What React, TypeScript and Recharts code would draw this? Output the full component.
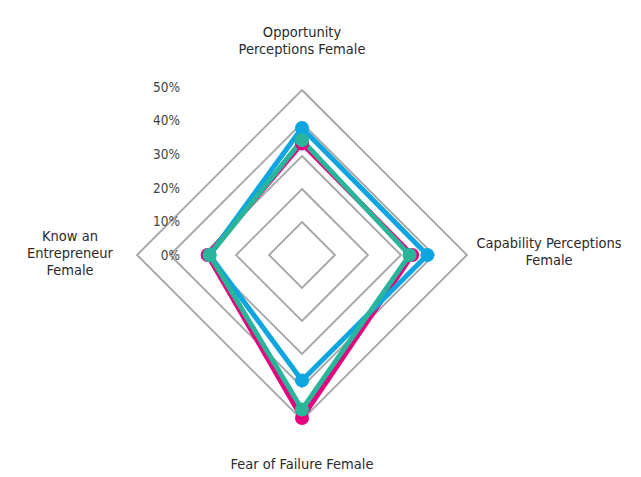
import React from 'react';
import { RadarChart, Radar, PolarGrid, PolarAngleAxis, PolarRadiusAxis } from 'recharts';

// categories, clockwise from the top
const categories = [
  'Opportunity Perceptions Female',
  'Capability Perceptions Female',
  'Fear of Failure Female',
  'Know an Entrepreneur Female',
];

// label line breaks as they appear on the chart
const categoryLines = [
  ['Opportunity', 'Perceptions Female'],
  ['Capability Perceptions', 'Female'],
  ['Fear of Failure Female'],
  ['Know an', 'Entrepreneur', 'Female'],
];

const pinkValues = [33.8, 33.4, 49.4, 28.6];
const blueValues = [38.5, 38.0, 38.0, 28.0];
const tealValues = [34.8, 32.6, 46.8, 28.0];

const radiusTicks = [0, 10, 20, 30, 40, 50];

const data = categories.map((name, i) => ({
  name,
  pink: pinkValues[i],
  blue: blueValues[i],
  teal: tealValues[i],
}));

const FONT = '"Liberation Sans Narrow", "DejaVu Sans Condensed", "Roboto", sans-serif';
const CY = 255;

const AngleTick = (props: any) => {
  const { x, y, payload } = props;
  const idx = categories.indexOf(payload.value);
  const lines = categoryLines[idx] || [payload.value];
  // offsets of each label block relative to the tick point
  let cx = x;
  let startY = y;
  if (idx === 0) {
    startY = y - 45;
  } else if (idx === 1) {
    cx = x + 74;
    startY = y - 7;
  } else if (idx === 2) {
    startY = y + 41;
  } else {
    cx = x - 59;
    startY = y - 14;
  }
  return (
    <text x={cx} y={startY} textAnchor="middle" fill="#2a2a2a" fontSize={14.5} fontFamily={FONT}>
      {lines.map((l, i) => (
        <tspan key={i} x={cx} dy={i === 0 ? 0 : 17}>
          {l}
        </tspan>
      ))}
    </text>
  );
};

const RadiusTick = (props: any) => {
  const { y, payload } = props;
  const yy = CY - (CY - y) * 1.02;
  return (
    <text x={180} y={yy + 5} textAnchor="end" fill="#444" fontSize={13.5} fontFamily={FONT}>
      {`${payload.value}%`}
    </text>
  );
};

const makeDot = (color: string) => (props: any) => {
  const { cx, cy, key } = props;
  if (cx == null || cy == null) return null;
  return <circle key={key} cx={cx} cy={cy} r={7} fill={color} />;
};

export default function App() {
  return (
    <div style={{ position: 'absolute', left: 0, top: 0, background: '#fff' }}>
      <RadarChart width={641} height={477} data={data} cx={302} cy={CY} outerRadius={165}>
        <PolarGrid gridType="polygon" stroke="#a6a6a6" strokeWidth={1.8} radialLines={false} />
        <PolarAngleAxis dataKey="name" tick={<AngleTick />} tickLine={false} axisLine={false} />
        <PolarRadiusAxis
          angle={90}
          domain={[0, 50]}
          ticks={radiusTicks}
          tickCount={6}
          axisLine={false}
          tick={<RadiusTick />}
        />
        <Radar
          dataKey="pink"
          stroke="#e6007e"
          strokeWidth={5}
          fill="none"
          fillOpacity={0}
          dot={makeDot('#e6007e')}
          isAnimationActive={false}
        />
        <Radar
          dataKey="blue"
          stroke="#0ea5e0"
          strokeWidth={5}
          fill="none"
          fillOpacity={0}
          dot={makeDot('#0ea5e0')}
          isAnimationActive={false}
        />
        <Radar
          dataKey="teal"
          stroke="#28b59a"
          strokeWidth={5}
          fill="none"
          fillOpacity={0}
          dot={makeDot('#28b59a')}
          isAnimationActive={false}
        />
      </RadarChart>
    </div>
  );
}
